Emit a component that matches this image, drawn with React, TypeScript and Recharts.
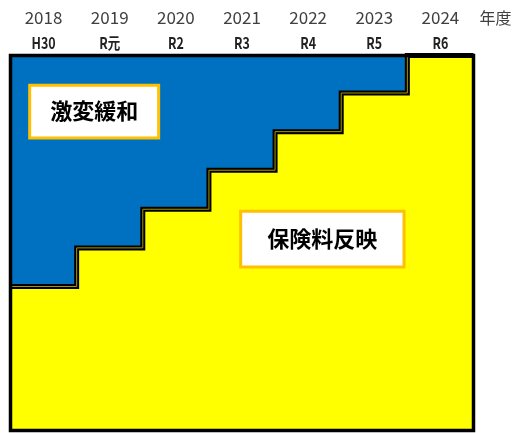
import { AreaChart, Area, Line, XAxis, YAxis, CartesianGrid, ReferenceArea } from "recharts";

// fiscal years and Japanese era labels
const years = ["2018", "2019", "2020", "2021", "2022", "2023", "2024"];
const eras = ["H30", "R元", "R2", "R3", "R4", "R5", "R6"];
// share reflected in premiums (%)
const reflected = [38.4, 48.7, 59, 69.4, 79.7, 90, 100];

const COLORS = {
  blue: "#0070C0",
  yellow: "#FFFF00",
  frame: "#000000",
  inner: "#a89200",
  boxBorder: "#FFC000",
  yearText: "#404040",
};

// step area needs the right edge of the last year too
const data = [
  ...reflected.map((v, i) => ({ x: i, v })),
  { x: years.length, v: reflected[reflected.length - 1] },
];
const tickPositions = years.map((_, i) => i + 0.5);

const FONT = "'Noto Sans CJK JP', 'Noto Sans', sans-serif";

const YearTick = (props: any) => {
  const { x, y, payload } = props;
  const i = Math.floor(payload.value);
  return (
    <g>
      <text x={x} y={y - 32} textAnchor="middle" fontSize={17} fill={COLORS.yearText} fontFamily={FONT}>
        {years[i]}
      </text>
      {i === years.length - 1 && (
        <text x={x + 39} y={y - 32} textAnchor="start" fontSize={16} fill={COLORS.yearText} fontFamily={FONT}>
          年度
        </text>
      )}
      <g transform={`translate(${x},0) scale(0.78,1)`}>
        <text x={0} y={y - 6} textAnchor="middle" fontSize={16} fontWeight="bold" fill="#222" fontFamily={FONT}>
          {eras[i]}
        </text>
      </g>
    </g>
  );
};

const boxLabel = (value: string) => ({
  value,
  position: "center" as const,
  fill: "#000",
  fontSize: 22,
  fontWeight: "bold",
  fontFamily: FONT,
});

export default function App() {
  return (
    <div style={{ position: "fixed", left: 0, top: 0 }}>
      <AreaChart
        width={514}
        height={433}
        data={data}
        margin={{ top: 0, right: 40.5, bottom: 2.5, left: 10.5 }}
      >
        <CartesianGrid horizontal={false} vertical={false} fill={COLORS.blue} fillOpacity={1} />
        <XAxis
          dataKey="x"
          type="number"
          orientation="top"
          domain={[0, years.length]}
          ticks={tickPositions}
          height={55.5}
          axisLine={false}
          tickLine={false}
          tickSize={0}
          tickMargin={0}
          tick={<YearTick />}
          interval={0}
        />
        <YAxis hide domain={[0, 100]} />
        <Area
          type="stepAfter"
          dataKey="v"
          fill={COLORS.yellow}
          fillOpacity={1}
          stroke={COLORS.frame}
          strokeWidth={5}
          isAnimationActive={false}
        />
        <Line
          type="stepAfter"
          dataKey="v"
          stroke={COLORS.inner}
          strokeWidth={1}
          dot={false}
          activeDot={false}
          isAnimationActive={false}
        />
        <ReferenceArea
          x1={0.29}
          x2={2.24}
          y1={78}
          y2={92.1}
          fill="#fff"
          fillOpacity={1}
          stroke={COLORS.boxBorder}
          strokeWidth={3}
          zIndex={1500}
          label={boxLabel("激変緩和")}
        />
        <ReferenceArea
          x1={3.48}
          x2={5.95}
          y1={43.6}
          y2={58.5}
          fill="#fff"
          fillOpacity={1}
          stroke={COLORS.boxBorder}
          strokeWidth={3}
          zIndex={1500}
          label={boxLabel("保険料反映")}
        />
        <ReferenceArea
          x1={0}
          x2={years.length}
          y1={0}
          y2={100}
          fill="none"
          stroke={COLORS.frame}
          strokeWidth={3.5}
          zIndex={1600}
        />
      </AreaChart>
    </div>
  );
}
